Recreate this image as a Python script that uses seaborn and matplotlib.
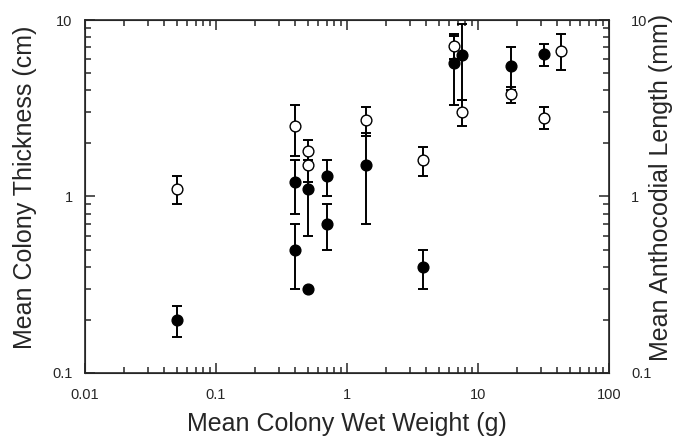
import numpy as np
import pandas as pd
import matplotlib
matplotlib.use("Agg")
import matplotlib.pyplot as plt
from matplotlib.ticker import LogLocator, FixedLocator, FixedFormatter, NullFormatter
import seaborn as sns

# colony thickness (cm), filled circles
thick_x = [0.05, 0.4, 0.4, 0.5, 0.5, 0.7, 0.7, 1.4, 3.8, 6.6, 7.5, 18, 32]
thick_y = [0.2, 1.2, 0.5, 1.1, 0.3, 1.3, 0.7, 1.5, 0.4, 5.7, 6.3, 5.5, 6.4]
thick_lo = [0.16, 0.8, 0.3, 0.6, 0.3, 1.0, 0.5, 0.7, 0.3, 3.3, 3.5, 4.0, 5.5]
thick_hi = [0.24, 1.6, 0.7, 1.6, 0.3, 1.6, 0.9, 2.3, 0.5, 8.1, 9.5, 7.0, 7.3]

# anthocodial length (mm), open circles
antho_x = [0.05, 0.4, 0.5, 0.5, 1.4, 3.8, 6.6, 7.5, 18, 32, 43]
antho_y = [1.1, 2.5, 1.8, 1.5, 2.7, 1.6, 7.1, 3.0, 3.8, 2.8, 6.7]
antho_lo = [0.9, 1.7, 1.5, 1.2, 2.2, 1.3, 6.0, 2.5, 3.4, 2.4, 5.2]
antho_hi = [1.3, 3.3, 2.1, 1.8, 3.2, 1.9, 8.3, 3.5, 4.2, 3.2, 8.3]

thick = pd.DataFrame({"x": thick_x, "y": thick_y, "lo": thick_lo, "hi": thick_hi})
antho = pd.DataFrame({"x": antho_x, "y": antho_y, "lo": antho_lo, "hi": antho_hi})

sns.set_style("ticks")
plt.rcParams['font.family'] = ['Liberation Sans', 'DejaVu Sans']

fig = plt.figure(figsize=(6.8, 4.37), dpi=100)
ax = fig.add_axes([0.125, 0.147, 0.7706, 0.807])

err_kw = dict(fmt='none', ecolor='black', elinewidth=1.4, capsize=3.5, capthick=1.4, zorder=2)
ax.errorbar(thick["x"], thick["y"], yerr=[thick["y"] - thick["lo"], thick["hi"] - thick["y"]], **err_kw)
ax.errorbar(antho["x"], antho["y"], yerr=[antho["y"] - antho["lo"], antho["hi"] - antho["y"]], **err_kw)

sns.scatterplot(data=thick, x="x", y="y", ax=ax, color="black", edgecolor="black",
                s=60, linewidth=1, zorder=3)
sns.scatterplot(data=antho, x="x", y="y", ax=ax, color="white", edgecolor="black",
                s=60, linewidth=1, zorder=3)

ax.set_xscale("log")
ax.set_yscale("log")
ax.set_xlim(0.01, 100)
ax.set_ylim(0.1, 10)

ax.xaxis.set_major_locator(FixedLocator([0.01, 0.1, 1, 10, 100]))
ax.xaxis.set_major_formatter(FixedFormatter(["0.01", "0.1", "1", "10", "100"]))
ax.xaxis.set_minor_locator(LogLocator(base=10, subs=np.arange(2, 10)))
ax.xaxis.set_minor_formatter(NullFormatter())
ax.yaxis.set_major_locator(FixedLocator([0.1, 1, 10]))
ax.yaxis.set_major_formatter(FixedFormatter(["0.1", "1", "10"]))
ax.yaxis.set_minor_locator(LogLocator(base=10, subs=np.arange(2, 10)))
ax.yaxis.set_minor_formatter(NullFormatter())

ax.tick_params(which="both", direction="in", top=True, right=False, labelsize=10.5, width=1.1)
ax.tick_params(which="major", length=7)
ax.tick_params(which="minor", length=4)
ax.tick_params(axis="y", which="major", pad=9)
ax.tick_params(axis="x", which="major", pad=11)
for s in ax.spines.values():
    s.set_linewidth(1.2)

ax.set_xlabel("Mean Colony Wet Weight (g)", fontsize=18, labelpad=7)
ax.set_ylabel("Mean Colony Thickness (cm)", fontsize=18, labelpad=11)
ax.yaxis.label.set_y(0.526)

ax2 = ax.twinx()
ax2.set_yscale("log")
ax2.set_ylim(0.1, 10)
ax2.yaxis.set_major_locator(FixedLocator([0.1, 1, 10]))
ax2.yaxis.set_major_formatter(FixedFormatter(["0.1", "1", "10"]))
ax2.yaxis.set_minor_locator(LogLocator(base=10, subs=np.arange(2, 10)))
ax2.yaxis.set_minor_formatter(NullFormatter())
ax2.tick_params(which="both", direction="in", labelsize=10.5, width=1.1)
ax2.tick_params(which="major", length=7, pad=16)
ax2.tick_params(which="minor", length=4)
ax2.set_ylabel("Mean Anthocodial Length (mm)", fontsize=18, labelpad=-2)
ax2.yaxis.label.set_y(0.526)

fig.savefig("out.png", dpi=100)
